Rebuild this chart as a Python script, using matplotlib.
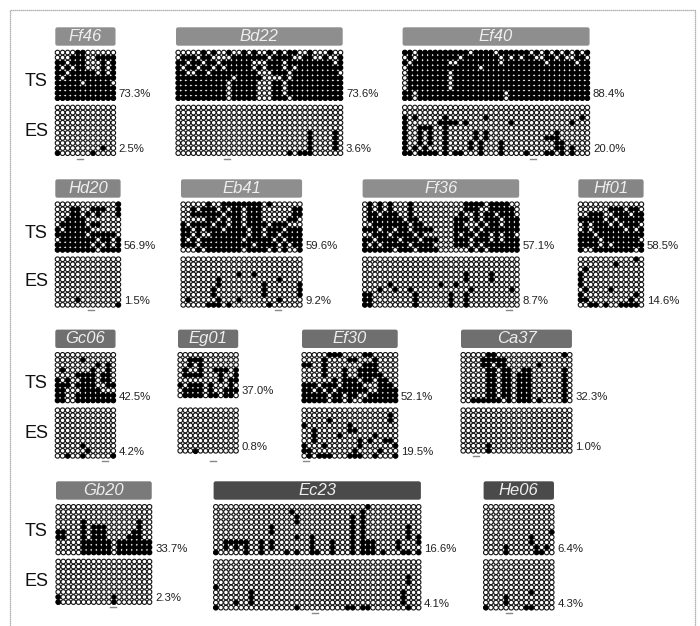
import matplotlib
matplotlib.use("Agg")
import matplotlib.pyplot as plt
from matplotlib.patches import FancyBboxPatch

plt.rcParams['font.family'] = ['Liberation Sans', 'DejaVu Sans']

W, H = 700, 626
PITCH = 5.07

# methylated CpGs, TS grids are dense so they are row strings, ES grids are (clone, cpg)
ff46_ts = ["....##......", "...###..####", "##.###...#.#", "#.#.##...#.#", "##.#####.#.#",
           "#.##########", "#####.#####.", "############", "############", "############"]
ff46_es = [(8, 9), (9, 0), (9, 7)]

bd22_ts = [".....#.#..#..#.#..#.#.##..#...#..",
           ".###.##....#######.####..##..#..#",
           "##.##.##.######...###.#########.#",
           "#.##.##.#.#####.#.###.#.#########",
           "##..##.#########...###.#########.",
           "###########.#####....#.##########",
           "##########.#####...##.###########",
           "##########.#####...##.###########",
           "##########.#####...##.###########",
           "##########.#####...###.##########"]
bd22_es = [(5, 26), (6, 26), (7, 26), (8, 26), (5, 31), (6, 31), (7, 31), (8, 31),
           (9, 22), (9, 24), (9, 25), (9, 26)]

ef40_ts = ["##.##########.####.######.#.#.#.#.#.#",
           ".#.########.#######.#.#.##..##.#..##.",
           "#.#######..########.########.#####.##",
           ".##############.#####################",
           ".########.###########################",
           ".########.###########################",
           ".########.###########################",
           ".########.###########################",
           "##.#################.################",
           "##.#################.################"]
ef40_es = [(2, 0), (2, 2), (2, 8), (2, 16), (2, 35),
           (3, 0), (3, 7), (3, 8), (3, 9), (3, 10), (3, 12), (3, 21), (3, 33),
           (4, 0), (4, 3), (4, 4), (4, 5), (4, 8),
           (5, 0), (5, 3), (5, 5), (5, 8), (5, 14), (5, 16), (5, 30),
           (6, 0), (6, 3), (6, 5), (6, 8), (6, 14), (6, 16), (6, 28), (6, 29), (6, 30),
           (7, 0), (7, 3), (7, 5), (7, 8), (7, 13), (7, 15), (7, 19), (7, 30), (7, 31),
           (8, 0), (8, 2), (8, 4), (8, 8), (8, 13), (8, 15), (8, 19), (8, 30), (8, 31), (8, 33),
           (9, 0), (9, 1), (9, 3), (9, 4), (9, 5), (9, 6), (9, 8), (9, 10), (9, 11), (9, 15),
           (9, 19), (9, 24), (9, 28), (9, 29), (9, 31), (9, 33)]

hd20_ts = ["............#", "...##..###..#", "...##.#.#...#", "..####.......", ".#####.##....",
           "#.#####......", "######.#####.", ".#######.##.#", "#######.#.#.#", "########.####"]
hd20_es = [(8, 4), (9, 12)]

eb41_ts = [".....#..########.#......", "..#.###.#.##.###......##", "..######.###.###......##",
           ".....##.#.##.###.....##.", "#.####.##.##.####.###...", "##.#.###.####.##.###.###",
           "##.#..#######.##.##.####", "#.#.########.#####.#.###", "###.##########.####.#.##",
           "...#.#######.####.#.#..#"]
eb41_es = [(3, 11), (3, 14), (4, 7), (4, 19), (5, 7), (5, 16), (5, 23), (6, 6), (6, 16), (6, 23),
           (7, 6), (7, 16), (7, 23), (8, 1), (8, 7), (8, 11), (8, 19),
           (9, 5), (9, 6), (9, 7), (9, 9), (9, 17)]

ff36_ts = [".#.#.#...#..........####.####..", ".#.#.#...#..........###..#####.",
           ".##.###..#.........#..#.##.###.", ".#######.##.......###.#.###.###",
           "..#######.##......##...#.##.###", "###.##.##.####....###.#.#######",
           "..###.####.#......#.##.##.#.##.", "##.####.###.###...###.###.#.###",
           "#.#.#####.####....###.#.#######", "######.###.####......#.#.######"]
ff36_es = [(3, 20), (4, 20), (3, 25), (4, 25), (5, 5), (5, 15), (5, 18),
           (6, 3), (6, 6), (6, 9), (6, 21), (6, 29),
           (7, 0), (8, 0), (9, 0), (7, 1), (8, 1), (9, 1), (7, 10), (8, 10), (9, 10),
           (7, 17), (8, 17), (9, 17), (7, 20), (8, 20), (9, 20)]

hf01_ts = [".............", "......###.##.", "..###..###.##", "#####.#.#####", ".#.###.#.###.",
           ".#.######.#.#", "###.#########", "####.#######.", "####.#.######", "#..########.#"]
hf01_es = [(0, 11), (1, 7), (2, 1), (3, 0), (4, 0), (5, 0), (6, 1), (6, 6), (7, 0), (7, 11),
           (8, 0), (8, 1), (8, 10), (9, 2), (9, 3), (9, 5), (9, 8), (9, 9), (9, 10), (9, 11)]

gc06_ts = ["............", ".....#......", "........#.#.", ".#.....#..#.", "....####.##.",
           "#.#..###.##.", "###.####..##", "##...####...", "##..########", "##..########"]
gc06_es = [(7, 5), (8, 6), (9, 2), (9, 5), (9, 11)]

eg01_ts = ["............", "..###.......", "..#.#.......", ".#..#..###.#", ".####...#..#",
           "........#.##", "#.###.#...#.", ".####.#..###", ".####.##.##."]
eg01_es = [(8, 3)]

ef30_ts = [".....###....##.....", "....#....##...#....", "##..#.......###....", "....#...#..####....",
           "....#...#..#####...", "......#.###.##.##..", "###.###.####...###.", "##.#.#.######..####",
           "#####.##.##..######", "#####.##.#..#######"]
ef30_es = [(1, 17), (2, 5), (2, 17), (3, 0), (3, 9), (4, 2), (4, 9), (4, 10), (5, 2), (5, 7), (5, 14),
           (6, 2), (6, 11), (6, 13), (6, 16), (6, 17), (7, 0), (7, 4), (7, 11), (7, 18),
           (8, 0), (8, 1), (8, 10), (8, 15),
           (9, 1), (9, 3), (9, 4), (9, 5), (9, 9), (9, 10), (9, 11), (9, 14), (9, 18)]

ca37_ts = [".....##.............#.", "....#####.............", "....##.##......#......",
           ".....##.##..##......#.", ".....##.##.###......#.", ".....##.##.###......#.",
           ".....##.##.###......#.", ".....##.##.###......#.", ".....##.##.###......#.",
           "..######.#.###.#....#."]
ca37_es = [(7, 5), (8, 5)]

gb20_ts = ["...................", "...................", "...................",
           ".....#..........#..", ".....#.###......#..", "##...#.###.....##..",
           "##...#.###....###..", ".....######.#######", ".....######.#######", ".....######.#######"]
gb20_es = [(7, 0), (8, 0), (7, 11), (8, 11)]

ec23_ts = [(0, 30), (1, 15), (1, 29), (2, 16), (2, 27), (2, 29), (3, 16), (3, 27), (3, 29),
           (4, 11), (4, 27), (4, 29), (4, 38), (5, 11), (5, 27), (5, 29), (5, 38),
           (6, 16), (6, 19), (6, 27), (6, 29), (6, 38), (6, 40),
           (7, 2), (7, 3), (7, 4), (7, 5), (7, 6), (7, 9), (7, 11), (7, 19), (7, 23), (7, 27),
           (7, 29), (7, 30), (7, 31), (7, 36), (7, 40),
           (8, 2), (8, 4), (8, 6), (8, 9), (8, 11), (8, 19), (8, 23), (8, 27), (8, 29), (8, 30),
           (8, 31), (8, 36),
           (9, 0), (9, 6), (9, 9), (9, 14), (9, 16), (9, 19), (9, 20), (9, 23), (9, 27), (9, 29),
           (9, 30), (9, 31), (9, 33), (9, 37), (9, 38), (9, 40)]
ec23_es = [(5, 0), (8, 4), (6, 7), (7, 7), (8, 7), (9, 0), (9, 16), (9, 26), (9, 27), (9, 29),
           (9, 30), (3, 38), (4, 38), (6, 37), (7, 37), (8, 37), (9, 38)]

he06_ts = [(5, 13), (6, 9), (7, 9), (8, 10), (9, 10), (9, 11), (8, 12), (8, 4), (9, 4)]
he06_es = [(9, 0), (7, 4), (8, 4), (6, 9), (9, 8), (9, 9)]

names = ["Ff46", "Bd22", "Ef40", "Hd20", "Eb41", "Ff36", "Hf01", "Gc06", "Eg01", "Ef30", "Ca37",
         "Gb20", "Ec23", "He06"]
ts_pct = ["73.3%", "73.6%", "88.4%", "56.9%", "59.6%", "57.1%", "58.5%", "42.5%", "37.0%", "52.1%",
          "32.3%", "33.7%", "16.6%", "6.4%"]
es_pct = ["2.5%", "3.6%", "20.0%", "1.5%", "9.2%", "8.7%", "14.6%", "4.2%", "0.8%", "19.5%",
          "1.0%", "2.3%", "4.1%", "4.3%"]
n_cpg = [12, 33, 37, 13, 24, 31, 13, 12, 12, 19, 22, 19, 41, 14]
n_ts = [10, 10, 10, 10, 10, 10, 10, 10, 9, 10, 10, 10, 10, 10]
n_es = [10, 10, 10, 10, 10, 10, 10, 10, 9, 10, 9, 9, 10, 10]
ts_data = [ff46_ts, bd22_ts, ef40_ts, hd20_ts, eb41_ts, ff36_ts, hf01_ts, gc06_ts, eg01_ts,
           ef30_ts, ca37_ts, gb20_ts, ec23_ts, he06_ts]
es_data = [ff46_es, bd22_es, ef40_es, hd20_es, eb41_es, ff36_es, hf01_es, gc06_es, eg01_es,
           ef30_es, ca37_es, gb20_es, ec23_es, he06_es]

# layout in pixels of the reference
left = [55, 175.7, 402.3, 55, 180.7, 362.3, 578, 55, 177.7, 301.7, 460.7, 55.7, 213.3, 483.3]
title_y = [27, 27, 27, 179, 179, 179, 179, 329.3, 329.3, 329.3, 329.3, 481, 481, 481]
ts_y = [50, 50, 50, 201.7, 201.7, 201.7, 201.7, 352.3, 352.3, 352.3, 352.3, 504.3, 504.3, 504.3]
es_y = [105, 105, 105, 256.7, 256.7, 256.7, 256.7, 407.7, 407.7, 407.7, 407.7, 559, 559.5, 559.5]
title_grey = ["#8e8e8e", "#8e8e8e", "#8e8e8e", "#858585", "#8e8e8e", "#8e8e8e", "#858585", "#6f6f6f",
              "#6f6f6f", "#6f6f6f", "#6f6f6f", "#7a7a7a", "#4a4a4a", "#4a4a4a"]
row_label_y = [(81, 131), (233, 282), (384, 433), (532, 582)]
row_label_x = 36
scale_x = [80, 226.7, 533, 90.7, 278, 509, None, 105, 213, 306, 475.7, 113, 315, 509]
scale_y = [159, 159, 159, 310, 310, 310, None, 461, 461, 461, 456, 607, 612.7, 613]


def filled_cells(grid):
    if isinstance(grid[0], str):
        return [(r, c) for r, row in enumerate(grid) for c, ch in enumerate(row) if ch == "#"]
    return grid


def draw_grid(fig, x, y, ncols, nrows, grid):
    ax = fig.add_axes([x / W, 1 - (y + nrows * PITCH) / H, ncols * PITCH / W, nrows * PITCH / H])
    ax.set_xlim(-0.5, ncols - 0.5)
    ax.set_ylim(nrows - 0.5, -0.5)
    ax.axis("off")
    rows = [r for r in range(nrows) for c in range(ncols)]
    cols = [c for r in range(nrows) for c in range(ncols)]
    # sizes as a list, a single size makes agg round the markers to whole pixels
    ax.scatter(cols, rows, s=[11] * len(cols), facecolor="white", edgecolor="#111111", linewidth=0.8, clip_on=False, snap=False)
    cells = [p for p in filled_cells(grid) if p[0] < nrows and p[1] < ncols]
    ax.scatter([p[1] for p in cells], [p[0] for p in cells], s=[14] * len(cells), color="black", linewidth=0, clip_on=False, snap=False)


fig = plt.figure(figsize=(W / 100, H / 100), dpi=100, facecolor="white")
bg = fig.add_axes([0, 0, 1, 1])
bg.set_xlim(0, W)
bg.set_ylim(H, 0)
bg.axis("off")

for i, name in enumerate(names):
    w = n_cpg[i] * PITCH
    bg.add_patch(FancyBboxPatch((left[i] + 1, title_y[i] + 1), w - 2, 17, boxstyle="round,pad=0,rounding_size=1.5",
                                mutation_aspect=1, facecolor=title_grey[i], edgecolor=title_grey[i], linewidth=1))
    bg.text(left[i] + w / 2, title_y[i] + 9.5, name, color="#eeeeee", style="italic", ha="center", va="center", fontsize=12)
    draw_grid(fig, left[i], ts_y[i], n_cpg[i], n_ts[i], ts_data[i])
    draw_grid(fig, left[i], es_y[i], n_cpg[i], n_es[i], es_data[i])
    px = left[i] + w + 3
    bg.text(px, ts_y[i] + n_ts[i] * PITCH - 6.5, ts_pct[i], fontsize=8.2, va="center", color="#222222")
    bg.text(px, es_y[i] + n_es[i] * PITCH - 6.5, es_pct[i], fontsize=8.2, va="center", color="#222222")
    if scale_x[i] is not None:
        bg.plot([scale_x[i] - 3, scale_x[i] + 3], [scale_y[i], scale_y[i]], color="#888888", lw=1)

for ts_label, es_label in row_label_y:
    bg.text(row_label_x, ts_label, "TS", fontsize=13, ha="center", va="center", color="#111111")
    bg.text(row_label_x, es_label, "ES", fontsize=13, ha="center", va="center", color="#111111")

# scanned frame, open at the bottom
bg.plot([10, 10, 695, 695], [626, 9.5, 9.5, 626], color="#9a9a9a", lw=0.9, ls=(0, (1, 0.6)))

fig.savefig("out.png", dpi=100)
